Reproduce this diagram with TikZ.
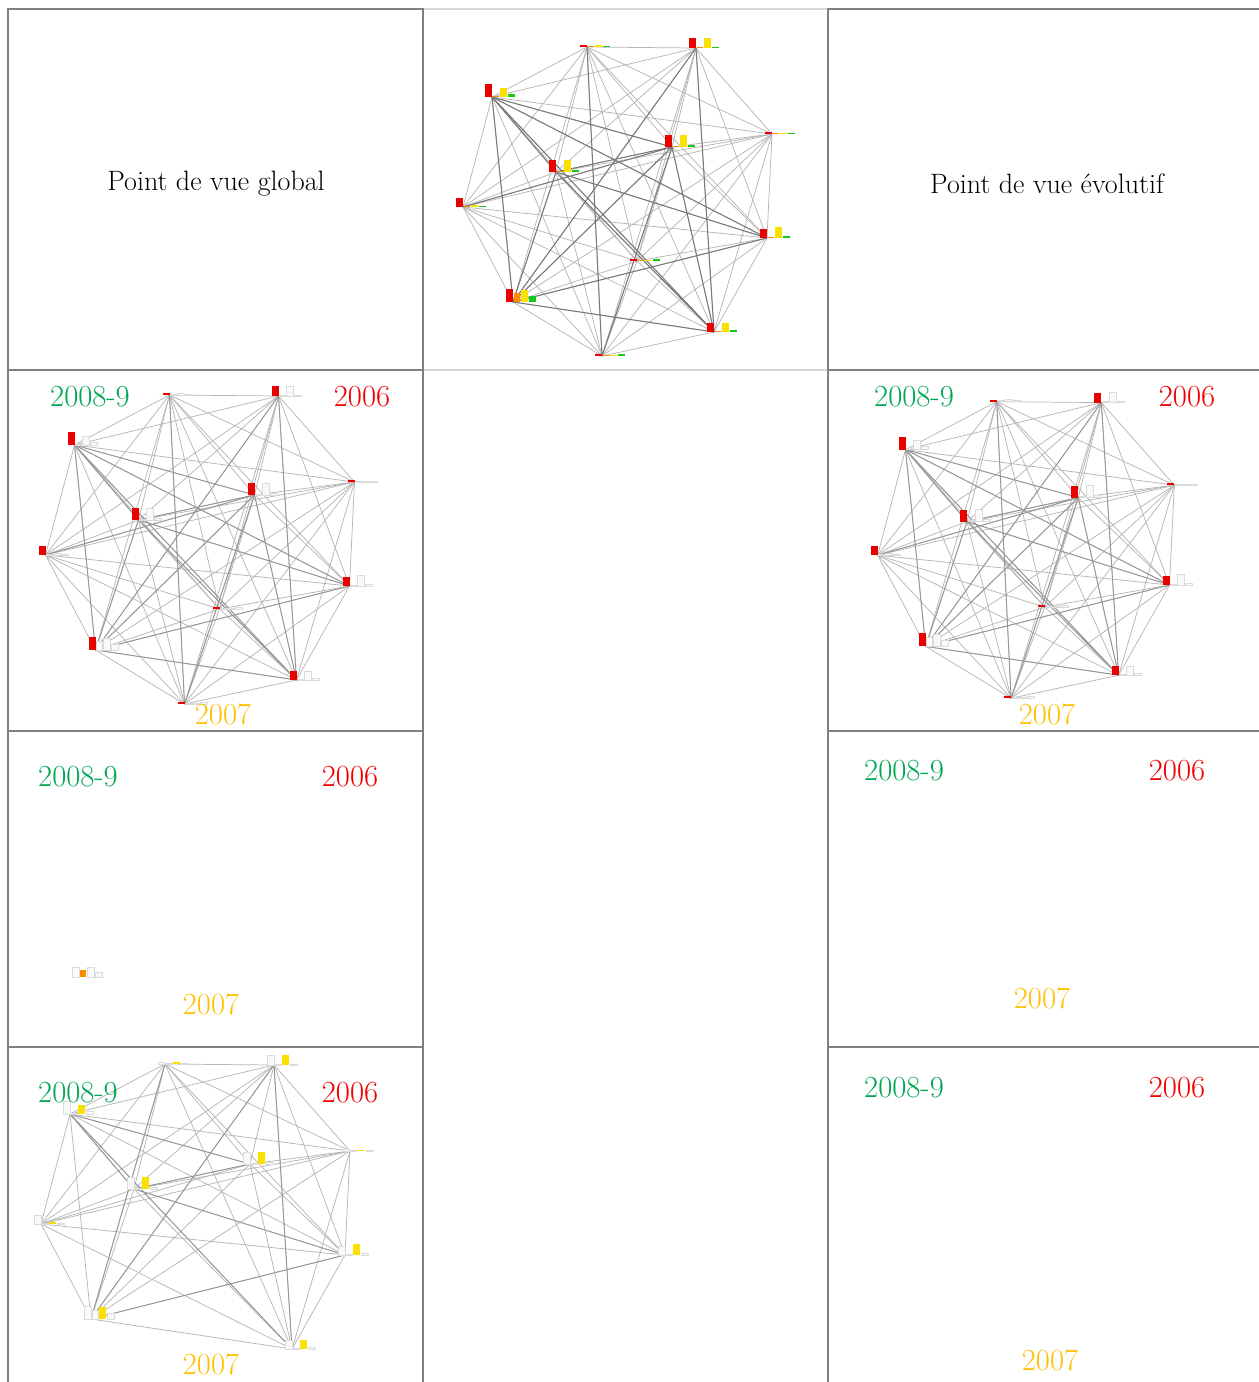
\documentclass[tikz,border=0pt]{standalone}
\usepackage{fontspec}
\usetikzlibrary{calc}
\definecolor{gridgray}{RGB}{128,128,128}
\definecolor{lightgrid}{RGB}{215,215,215}
\definecolor{yrgreen}{RGB}{0,166,81}
\definecolor{yrred}{RGB}{240,0,0}
\definecolor{yryellow}{RGB}{255,192,0}
\definecolor{barred}{RGB}{235,0,0}
\definecolor{barorange}{RGB}{250,140,0}
\definecolor{baryellow}{RGB}{250,225,0}
\definecolor{bargreen}{RGB}{20,200,20}
\definecolor{edgelight}{RGB}{182,182,182}
\definecolor{edgemid}{RGB}{150,150,150}
\definecolor{edgedark}{RGB}{120,120,120}
\tikzset{
  gridline/.style={draw=gridgray,line width=1.5pt},
  gridlight/.style={draw=lightgrid,line width=1.5pt},
  edgelt/.style={draw=edgelight,line width=0.55pt},
  edgemd/.style={draw=edgemid,line width=0.65pt},
  edgedk/.style={draw=edgedark,line width=0.75pt},
  rbar/.style={fill=barred},
  obar/.style={fill=barorange},
  ybar/.style={fill=baryellow},
  gbar/.style={fill=bargreen},
  ghost/.style={fill=gray!5,draw=gray!28,line width=0.3pt},
  yeartxt/.style={font=\fontsize{23}{27}\selectfont,inner sep=0pt},
  titletxt/.style={font=\fontsize{21}{25}\selectfont,inner sep=0pt},
}
\def\allnodes{1,2,3,4,5,6,7,8,9,10,11,12}
\def\blnodes{1,2,3,4,5,6,7,8,10,11}
\def\darkall{3/6,3/11,3/5,3/8,3/10,6/11,6/5,6/10,6/8,5/10,5/11,10/8,10/11,2/10,2/11,1/12,5/12,7/5}
\def\darkbl{3/6,3/11,3/5,6/5,10/8,2/10,1/10,6/8,2/11}
\def\allbars{1/2/1/2/1,2/10/1/10/1,3/13/1/9/3,4/2/1/1/1,5/12/1/12/2,6/12/1/12/2,7/9/1/2/1,8/9/1/11/2,9/2/1/1/2,10/13/9/12/6,11/9/1/9/2,12/2/1/1/2}
\def\blbars{1/2/1/2/1,2/10/1/10/1,3/13/1/9/3,4/2/1/1/1,5/12/1/12/2,6/12/1/12/2,7/9/1/2/1,8/9/1/11/2,10/13/9/12/6,11/9/1/9/2}
\def\lonebar{10/10/7/10/5}
\newcommand{\netnodes}[4]{%
  \foreach \k/\dx/\dy in {1/-30/-153,2/79/-152,3/-125/-103,4/155/-66,5/55/-53,6/-61/-28,7/-154/7,8/150/38,9/20/61,10/-104/102,11/97/132,12/-15/156}
    {\coordinate (#1\k) at ({#2+#4*\dx},{#3+#4*\dy});}%
}
\newcommand{\netedges}[4]{%
  \foreach \i in #2 {\foreach \j in #2 {\ifnum\i<\j\relax \draw[edgelt] (#1\i) -- (#1\j);\fi}}%
  \foreach \i/\j in #3 {\draw[#4] (#1\i) -- (#1\j);}%
}
\newcommand{\netbars}[6]{%
  \foreach \k/\hr/\ho/\hy/\hg in #2 {%
    \path[#3] (#1\k) ++(-7,0) rectangle ++(7,-\hr);
    \path[#4] (#1\k) ++(1,0) rectangle ++(6,-\ho);
    \path[#5] (#1\k) ++(8,0) rectangle ++(7,-\hy);
    \path[#6] (#1\k) ++(16,0) rectangle ++(7,-\hg);
  }%
}
\begin{document}
\begin{tikzpicture}[x=0.75pt,y=-0.75pt]
\useasboundingbox (0,0) rectangle (1259,1382);
\fill[white] (0,0) rectangle (1259,1382);

% ---------- networks ----------
% top middle: all years
\netnodes{T}{617}{200}{1}
\netedges{T}{\allnodes}{\darkall}{edgedk}
\netbars{T}{\allbars}{rbar}{obar}{ybar}{gbar}
% row 2 left: 2006 view
\netnodes{L}{199.5}{548}{1}
\netedges{L}{\allnodes}{\darkall}{edgemd}
\netbars{L}{\allbars}{rbar}{ghost}{ghost}{ghost}
% row 2 right: 2006 view
\netnodes{R}{1025.5}{548.5}{0.96}
\netedges{R}{\allnodes}{\darkall}{edgemd}
\netbars{R}{\allbars}{rbar}{ghost}{ghost}{ghost}
% row 3 left: lone cluster
\coordinate (O10) at (79,977);
\netbars{O}{\lonebar}{ghost}{obar}{ghost}{ghost}
% row 4 left: 2007 view
\netnodes{B}{195}{1217}{1}
\netedges{B}{\blnodes}{\darkbl}{edgemd}
\netbars{B}{\blbars}{ghost}{ghost}{ybar}{ghost}

% ---------- grid ----------
\draw[gridline] (7,8.5) -- (423,8.5);
\draw[gridlight] (423,8.5) -- (828,8.5);
\draw[gridline] (828,8.5) -- (1259,8.5);
\draw[gridline] (7,370) -- (423,370);
\draw[gridlight] (423,370) -- (828,370);
\draw[gridline] (828,370) -- (1259,370);
\draw[gridline] (7,731) -- (423,731);
\draw[gridline] (828,731) -- (1259,731);
\draw[gridline] (7,1047) -- (423,1047);
\draw[gridline] (828,1047) -- (1259,1047);
\draw[gridline] (8,7.5) -- (8,1382);
\draw[gridline] (423,7.5) -- (423,1382);
\draw[gridline] (828,7.5) -- (828,1382);

% ---------- texts ----------
\node[titletxt] (tglobal) at (216,184) {Point de vue global};
\node[titletxt] (tevol) at (1047,184) {Point de vue évolutif};

\node[yeartxt,text=yrgreen] (a1) at (90,397) {2008-9};
\node[yeartxt,text=yrred] (a2) at (362,397) {2006};
\node[yeartxt,text=yryellow] (a3) at (223,714) {2007};

\node[yeartxt,text=yrgreen] (b1) at (914,397) {2008-9};
\node[yeartxt,text=yrred] (b2) at (1187,397) {2006};
\node[yeartxt,text=yryellow] (b3) at (1047,714) {2007};

\node[yeartxt,text=yrgreen] (c1) at (78,777) {2008-9};
\node[yeartxt,text=yrred] (c2) at (350,777) {2006};
\node[yeartxt,text=yryellow] (c3) at (211,1004) {2007};

\node[yeartxt,text=yrgreen] (d1) at (904,771) {2008-9};
\node[yeartxt,text=yrred] (d2) at (1177,771) {2006};
\node[yeartxt,text=yryellow] (d3) at (1042,998) {2007};

\node[yeartxt,text=yrgreen] (e1) at (78,1093) {2008-9};
\node[yeartxt,text=yrred] (e2) at (350,1093) {2006};
\node[yeartxt,text=yryellow] (e3) at (211,1364) {2007};

\node[yeartxt,text=yrgreen] (f1) at (904,1088) {2008-9};
\node[yeartxt,text=yrred] (f2) at (1177,1088) {2006};
\node[yeartxt,text=yryellow] (f3) at (1050,1360) {2007};
\end{tikzpicture}
\end{document}
